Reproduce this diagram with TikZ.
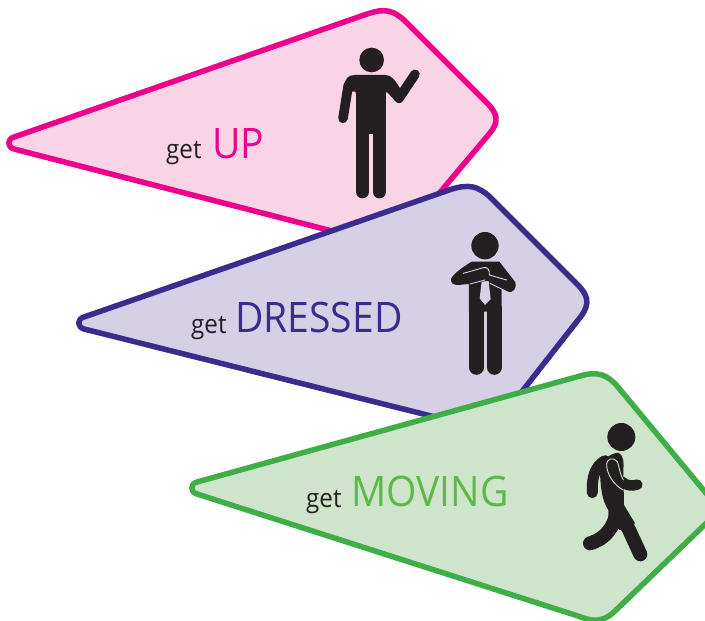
\documentclass[tikz,border=0pt]{standalone}
\usepackage{fontspec}
\setmainfont[FakeStretch=0.93]{Open Sans}
\definecolor{pinkE}{HTML}{EC008C}\definecolor{pinkF}{HTML}{F9D3E6}
\definecolor{purpE}{HTML}{3A2C8C}\definecolor{purpF}{HTML}{D5D0E6}
\definecolor{greenE}{HTML}{3FAE49}\definecolor{greenF}{HTML}{CFE5CB}
\definecolor{greenT}{HTML}{5BB947}\definecolor{ink}{HTML}{231F20}
\tikzset{
  tag/.style={line width=5.5pt,line join=round},
  limb/.style={draw=ink,line cap=round,line join=round},
  seam/.style={line width=0.9pt,line cap=round},
  zoomed/.style={x=0.3333pt,y=-0.3333pt},
  getword/.style={font=\fontsize{26}{28}\selectfont,text=ink,inner sep=0pt,anchor=base west},
  bigword/.style={font=\fontsize{42}{44}\selectfont,inner sep=0pt,anchor=base west},
}
\begin{document}
\begin{tikzpicture}[x=1pt,y=-1pt]
\useasboundingbox (0,0) rectangle (705,621);
% pink
\draw[tag,draw=pinkE,fill=pinkF] (14,137) -- (367,14) .. controls (385,8) and (393,10) .. (405,21) -- (487,103) .. controls (498,114) and (499,122) .. (490,133) -- (394,247) -- (14,149) .. controls (7,147) and (7,139) .. (14,137) -- cycle;
\begin{scope}[shift={(320,30)},zoomed]
 \fill[ink] (155,90) circle (37);
 \draw[limb,line width=9.6pt] (85,165) -- (69,265);
 \draw[limb,line width=9.6pt] (215,165) -- (237,205) -- (285,133);
 \fill[ink] (72,170) .. controls (75,145) and (85,135) .. (105,135) -- (195,135) .. controls (212,135) and (222,145) .. (240,175) -- (225,212) -- (200,185) -- (198,190) -- (107,190) -- (107,185) -- (92,185) -- cycle;
 \fill[ink] (107,170) rectangle (198,312);
 \draw[limb,line width=13.5pt] (127.5,300) -- (127.5,485);
 \draw[limb,line width=13.5pt] (178,300) -- (178,485);
\end{scope}
% purple
\draw[tag,draw=purpE,fill=purpF] (84,317) -- (452,189) .. controls (469,184) and (478,186) .. (490,197) -- (577,284) .. controls (588,295) and (590,303) .. (582,315) -- (491,431) -- (84,329) .. controls (77,327) and (77,319) .. (84,317) -- cycle;
\begin{scope}[shift={(430,220)},zoomed]
 \fill[ink] (165,77) circle (41);
 \fill[ink] (63,178) .. controls (65,165) and (100,140) .. (125,125) -- (208,125) -- (255,185) .. controls (262,205) and (250,220) .. (232,216) -- (215,207) -- (215,275) -- (117,275) -- (117,192) -- (85,195) .. controls (70,195) and (62,190) .. (63,178) -- cycle;
 \draw[limb,line width=15pt] (139.5,265) -- (139.5,442);
 \draw[limb,line width=15pt] (192.5,265) -- (192.5,442);
 \fill[purpF] (155,185) -- (176,183) -- (182,238) -- (165,255) -- (149,235) -- cycle;
 \draw[purpF,seam] (100,160) -- (160,143) .. controls (172,140) and (180,150) .. (178,165) -- (230,180);
 \draw[purpF,seam] (120,192) -- (165,180);
 \draw[purpF,seam] (180,190) -- (235,217);
\end{scope}
% green
\draw[tag,draw=greenE,fill=greenF] (197,482) -- (580,376) .. controls (597,371) and (607,374) .. (618,387) -- (720,510) -- (614,612) .. controls (603,622) and (593,622) .. (578,616) -- (197,494) .. controls (190,492) and (190,484) .. (197,482) -- cycle;
\begin{scope}[shift={(560,410)},zoomed]
 \fill[ink] (184,81) circle (42);
 \draw[limb,line width=11pt] (135,152) .. controls (105,170) and (95,200) .. (97,248);
 \fill[ink] (120,190) .. controls (120,150) and (150,130) .. (175,128) .. controls (190,135) and (192,155) .. (190,180) -- (192,285) -- (225,340) -- (180,360) -- (145,340) -- (145,300) .. controls (125,270) and (122,230) .. (120,190) -- cycle;
 \draw[limb,line width=14pt] (175,310) -- (205,355) -- (241,433);
 \draw[limb,line width=14pt] (170,310) .. controls (160,350) and (140,385) .. (90,400);
 \draw[limb,line width=10.5pt] (185,215) .. controls (200,228) and (215,228) .. (232,224);
 \draw[greenF,seam] (190,240) .. controls (160,225) and (140,190) .. (140,165) .. controls (140,145) and (160,140) .. (172,155) .. controls (178,170) and (180,195) .. (190,210);
\end{scope}
% labels
\node[getword] (g1) at (166,158) {get};
\node[bigword,text=pinkE] (w1) at (212,158) {UP};
\node[getword] (g2) at (191,333) {get};
\node[bigword,text=purpE] (w2) at (235,332) {DRESSED};
\node[getword] (g3) at (306,507) {get};
\node[bigword,text=greenT] (w3) at (351,506) {MOVING};
\end{tikzpicture}
\end{document}
